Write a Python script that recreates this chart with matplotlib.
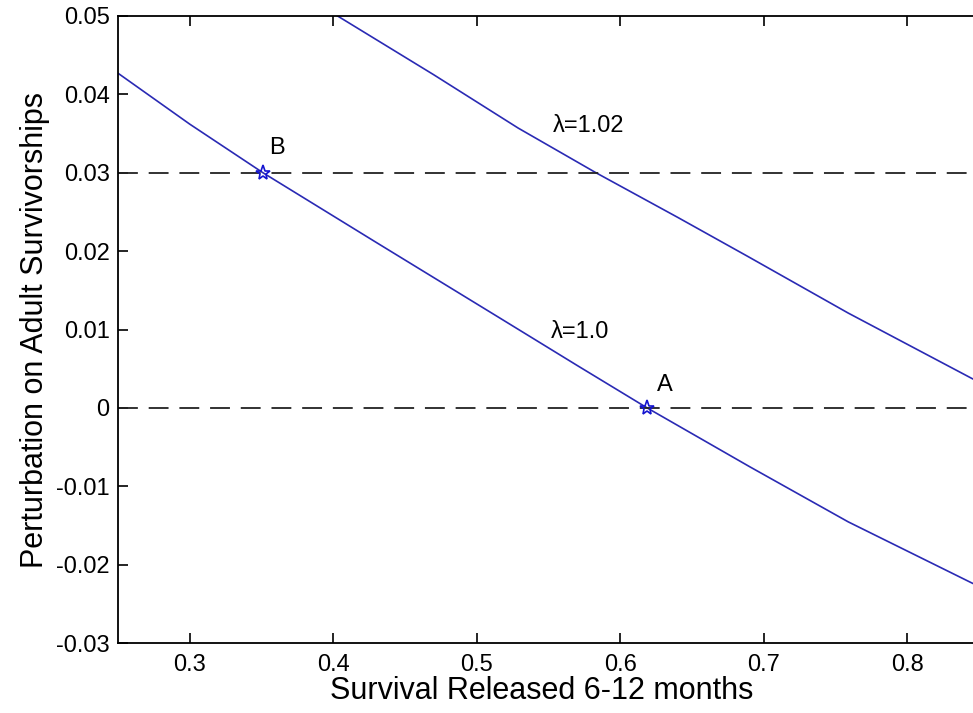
import matplotlib
matplotlib.use("Agg")
import matplotlib.pyplot as plt

plt.rcParams['font.family'] = ['Liberation Sans', 'DejaVu Sans']

# lambda = 1.0 contour
x_lam100 = [0.25, 0.30, 0.351, 0.43, 0.5148, 0.57, 0.6186, 0.69, 0.7587, 0.8444, 0.87]
y_lam100 = [0.0427, 0.0362, 0.030, 0.0211, 0.0116, 0.0054, 0.0, -0.0075, -0.01454, -0.0223, -0.0245]

# lambda = 1.02 contour
x_lam102 = [0.39, 0.403, 0.47, 0.5288, 0.583, 0.64, 0.689, 0.7587, 0.8444, 0.87]
y_lam102 = [0.0515, 0.050, 0.0425, 0.0357, 0.030, 0.0243, 0.0193, 0.0121, 0.0038, 0.0014]

# reference levels and the two marked points
h_levels = [0.03, 0.0]
pts_x = [0.351, 0.6186]
pts_y = [0.03, 0.0]
pt_names = ['B', 'A']
pt_lab_x = [0.355, 0.6256]
pt_lab_y = [0.0332, 0.0029]

lam_names = ['\u03bb=1.0', '\u03bb=1.02']
lam_lab_x = [0.5517, 0.553]
lam_lab_y = [0.0097, 0.036]

xticks = [0.3, 0.4, 0.5, 0.6, 0.7, 0.8]
yticks = [-0.03, -0.02, -0.01, 0, 0.01, 0.02, 0.03, 0.04, 0.05]

fig = plt.figure(figsize=(9.73, 7.13), dpi=100)
# axes run past the right edge of the picture, as in the cropped original
ax = fig.add_axes([118 / 973, 70 / 713, 933 / 973, 627 / 713])

line_col = '#2a2ab4'
ax.plot(x_lam100, y_lam100, color=line_col, lw=1.2)
ax.plot(x_lam102, y_lam102, color=line_col, lw=1.2)
for h in h_levels:
    ax.axhline(h, color='#222222', lw=1.3, dashes=(11, 6))
ax.plot(pts_x, pts_y, linestyle='none', marker='*', markersize=11,
        markerfacecolor='none', markeredgecolor='#1414d0', markeredgewidth=1.2)

for name, tx, ty in zip(pt_names, pt_lab_x, pt_lab_y):
    ax.text(tx, ty, name, ha='left', va='center', fontsize=17)
for name, tx, ty in zip(lam_names, lam_lab_x, lam_lab_y):
    ax.text(tx, ty, name, ha='left', va='center', fontsize=17)

ax.set_xlim(0.25, 0.9)
ax.set_ylim(-0.03, 0.05)
ax.set_xticks(xticks)
ax.set_xticklabels([f'{v:g}' for v in xticks])
ax.set_yticks(yticks)
ax.set_yticklabels([f'{v:g}' for v in yticks])
ax.tick_params(direction='in', length=7, width=1.2, labelsize=17,
               top=True, right=True, pad=6)
ax.tick_params(axis='x', pad=8)
for s in ax.spines.values():
    s.set_linewidth(1.3)

ax.set_xlabel('Survival Released 6-12 months', fontsize=22)
ax.xaxis.set_label_coords(0.4545, -0.052)
ax.set_ylabel('Perturbation on Adult Survivorships', fontsize=22, labelpad=4)

fig.savefig('out.png', dpi=100)
